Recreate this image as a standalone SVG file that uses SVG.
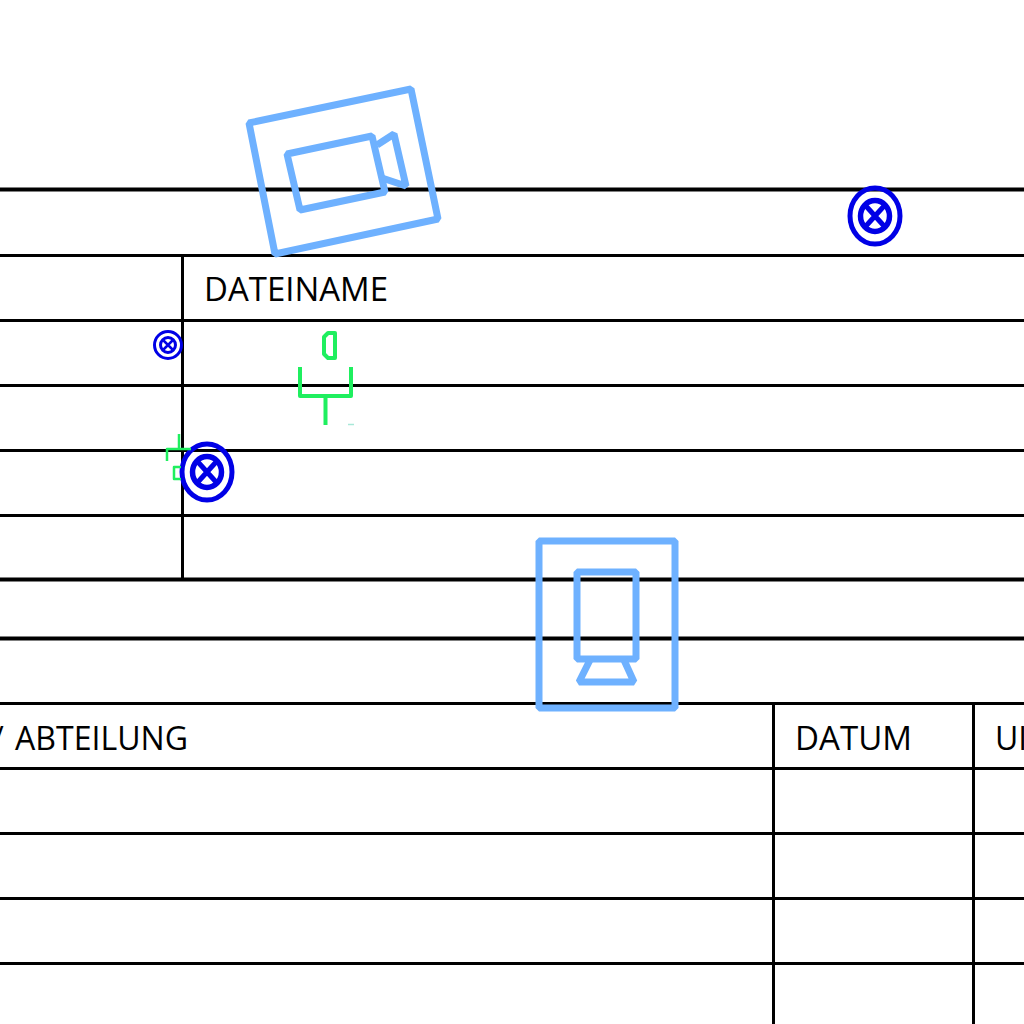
<svg xmlns="http://www.w3.org/2000/svg" width="1024" height="1024" viewBox="0 0 1024 1024">
<defs>
<style>
.thick{stroke:#000;stroke-width:4;fill:none}
.thin{stroke:#000;stroke-width:3;fill:none}
.cam{stroke:#6eb1ff;stroke-width:7;fill:none;stroke-linejoin:bevel}
.gr{stroke:#1fef5f;fill:none;stroke-linejoin:round}
.bl{stroke:#0000e6;fill:none}
text{font-family:"Open Sans","Noto Sans",sans-serif;font-size:32px;fill:#000}
</style>
<g id="xmark">
<ellipse class="bl" cx="0" cy="0" rx="25" ry="28" stroke-width="5"/>
<ellipse class="bl" cx="0" cy="0" rx="14.500" ry="15.500" stroke-width="5.500"/>
<path class="bl" d="M-9.500-10.500 9.500 10.500M9.500-10.500-9.500 10.500" stroke-width="5"/>
</g>
</defs>
<rect width="1024" height="1024" fill="#fff"/>
<g id="connectors">
<path class="thick" d="M0 189.500H1024M0 579.500H1024M0 638.500H1024"/>
<path class="thin" d="M0 255.500H1024M0 320.500H1024M0 385.500H1024M0 450.500H1024M0 515.500H1024M0 703.500H1024M0 768.500H1024M0 833.500H1024M0 898.500H1024M0 963.500H1024M182.500 255V579M773.500 703V1024M973.500 703V1024"/>
</g>
<g id="labels">
<text x="204" y="301" textLength="184" lengthAdjust="spacingAndGlyphs">DATEINAME</text>
<text x="15" y="750" textLength="173" lengthAdjust="spacingAndGlyphs">ABTEILUNG</text>
<text x="-8" y="750">/</text>
<text x="795" y="750" textLength="117" lengthAdjust="spacingAndGlyphs">DATUM</text>
<text x="995" y="750">UI</text>
</g>
<g id="node-camera">
<path class="cam" d="M249 123 411 89 438 219 275 254Z"/>
<path class="cam" d="M287 154 372 136 385 192 300 210Z"/>
<path class="cam" d="M377 145 394 134 406 186 382 178"/>
</g>
<g id="node-monitor">
<rect class="cam" x="539" y="541" width="136" height="167"/>
<rect class="cam" x="577" y="572" width="59" height="87"/>
<path class="cam" d="M590 660 579 682H634L624 660"/>
</g>
<g id="node-xmark-1"><use href="#xmark" x="875" y="216"/></g>
<g id="node-xmark-2"><use href="#xmark" x="207" y="472"/></g>
<g id="node-xmark-3">
<circle class="bl" cx="168" cy="345" r="13.500" stroke-width="3"/>
<circle class="bl" cx="168" cy="345" r="7.500" stroke-width="3"/>
<path class="bl" d="M163.500 340.500 172.500 349.500M172.500 340.500 163.500 349.500" stroke-width="2.500"/>
</g>
<g id="node-mic-large">
<path class="gr" stroke-width="4" d="M328 333H335V358H328L324 354V337Z"/>
<path class="gr" stroke-width="4" d="M300 367V396H351V367M325.500 396V425"/>
<path d="M348 424.500H354" stroke="#a8e8d8" stroke-width="1.500"/>
</g>
<g id="node-mic-small">
<path class="gr" stroke-width="2.500" d="M167 461V449H191M179 434V449"/>
<path class="gr" stroke-width="2.500" d="M181 467H174V479H181"/>
</g>
</svg>
